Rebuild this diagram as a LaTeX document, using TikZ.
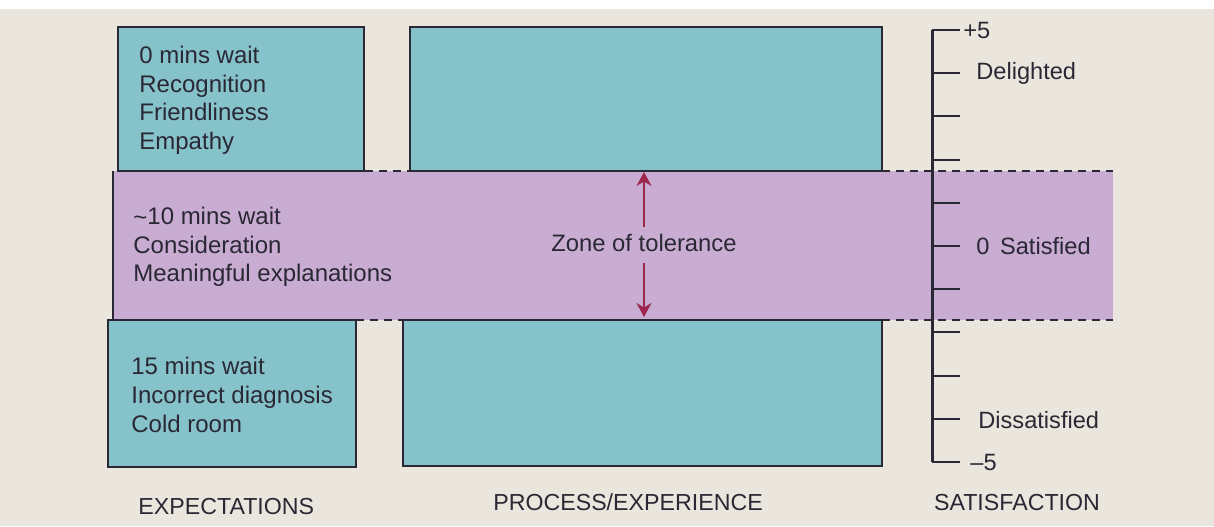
\documentclass[tikz,border=0pt]{standalone}
\usepackage{fontspec}
\setmainfont{Liberation Sans}
\usetikzlibrary{arrows.meta}
\definecolor{paper}{RGB}{234,230,221}
\definecolor{tealbox}{RGB}{134,194,202}
\definecolor{zonefill}{RGB}{200,172,210}
\definecolor{ink}{RGB}{42,40,52}
\definecolor{arrowred}{RGB}{158,38,78}
\tikzset{
  box/.style={draw=ink, line width=0.8pt, fill=tealbox},
  txt/.style={anchor=base west, inner sep=0pt, text=ink, font=\fontsize{12}{14}\selectfont},
  lbl/.style={anchor=base west, inner sep=0pt, text=ink, font=\fontsize{11.8}{14}\selectfont},
  capt/.style={anchor=base, inner sep=0pt, text=ink, font=\fontsize{11.6}{14}\selectfont},
  gapdash/.style={draw=ink, line width=0.7pt, dash pattern=on 4pt off 3pt},
  tolarrow/.style={draw=arrowred, line width=1.1pt, -{Stealth[length=7pt,width=7.5pt]}},
  tick/.style={draw=ink, line width=1pt}
}
\begin{document}
\begin{tikzpicture}[x=0.5pt,y=-0.5pt]
\useasboundingbox (0,0) rectangle (1214,526);
\fill[paper] (0,0) rectangle (1214,526);
\fill[white] (0,0) rectangle (1214,9);

% zone of tolerance band
\fill[zonefill] (113,171) rectangle (1113,320);
\draw[draw=ink, line width=0.8pt] (113,171) -- (113,320);
\draw[gapdash] (365,171) -- (410,171);
\draw[gapdash] (882,171) -- (1113,171);
\draw[gapdash] (356,320) -- (403,320);
\draw[gapdash] (882,320) -- (1113,320);

% boxes
\draw[box] (118,27) rectangle (364,171);
\draw[box] (410,27) rectangle (882,171);
\draw[box] (108,320) rectangle (356,467);
\draw[box] (403,320) rectangle (882,466);

% expectation texts
\node[txt] (e1) at (139,63) {0 mins wait};
\node[txt] (e2) at (139,92) {Recognition};
\node[txt] (e3) at (139,120) {Friendliness};
\node[txt] (e4) at (139,149) {Empathy};

\node[txt] (m1) at (133,224) {\raisebox{-0.15ex}{\textasciitilde}10 mins wait};
\node[txt] (m2) at (133,253) {Consideration};
\node[txt] (m3) at (133,281) {Meaningful explanations};

\node[txt] (b1) at (131,374) {15 mins wait};
\node[txt] (b2) at (131,403) {Incorrect diagnosis};
\node[txt] (b3) at (131,432) {Cold room};

% zone label and arrows
\node[capt, font=\fontsize{11.9}{14}\selectfont] (zone) at (644,251) {Zone of tolerance};
\coordinate (upS) at (644,227);
\coordinate (upE) at (644,172);
\coordinate (dnS) at (644,263);
\coordinate (dnE) at (644,317);
\draw[tolarrow] (upS) -- (upE);
\draw[tolarrow] (dnS) -- (dnE);

% satisfaction axis
\coordinate (axT) at (932,30);
\coordinate (axB) at (932,462);
\draw[draw=ink, line width=1.5pt] (axT) -- (axB);
\foreach \i in {0,...,10} {
  \draw[tick] (931.5,{30+43.2*\i}) -- (960,{30+43.2*\i});
}
\node[lbl, anchor=west] (p5) at (963,30) {+5};
\node[lbl, anchor=west] (del) at (976,73) {Delighted};
\node[lbl, anchor=west] (sat) at (976,246) {0\hspace{0.45em}Satisfied};
\node[lbl, anchor=west] (dis) at (978,420) {Dissatisfied};
\node[lbl, anchor=west] (m5) at (970,462) {\char"2013 5};

% column captions
\node[capt, anchor=base west] (cexp) at (138,514) {EXPECTATIONS};
\node[capt] (cproc) at (628,510) {PROCESS/EXPERIENCE};
\node[capt] (csat) at (1017,510) {SATISFACTION};
\end{tikzpicture}
\end{document}
